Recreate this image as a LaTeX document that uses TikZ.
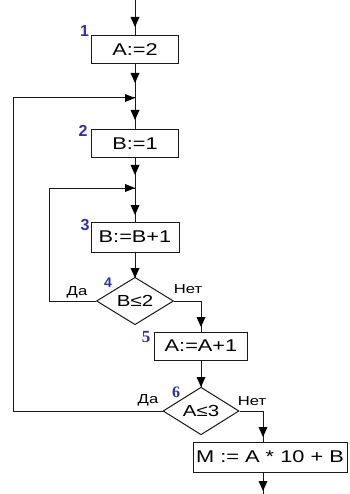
\documentclass[tikz,border=0pt]{standalone}
\usepackage{fontspec}
\setmainfont{Liberation Sans}
\newfontfamily\boxfont{Liberation Sans}[FakeStretch=1.28]
\newfontfamily\numsans{Liberation Sans}
\newfontfamily\numserif{Liberation Serif}
\usetikzlibrary{shapes.geometric,calc}
\definecolor{numblue}{RGB}{40,50,170}
\definecolor{linecol}{RGB}{25,25,25}
\begin{document}
\begin{tikzpicture}[x=1pt,y=-1pt,
  conn/.style={draw=linecol, line width=1pt},
  headfill/.style={fill=black},
  box/.style={draw=linecol, line width=1pt, rectangle, minimum height=28pt, inner sep=0pt, font=\boxfont\fontsize{17}{17}\selectfont},
  dia/.style={draw=linecol, line width=1pt, diamond, minimum width=77pt, minimum height=38pt, inner sep=0pt, font=\boxfont\fontsize{16}{16}\selectfont},
  numA/.style={text=numblue, inner sep=0pt, font=\numsans\bfseries\fontsize{16}{16}\selectfont},
  numB/.style={text=numblue, inner sep=0pt, font=\numserif\bfseries\fontsize{16}{16}\selectfont},
  yn/.style={inner sep=0pt, font=\boxfont\fontsize{13}{13}\selectfont}]
\useasboundingbox (0,0) rectangle (349,494);
% nodes
\node[box, minimum width=87pt] (b1) at (135,49.5) {A:=2};
\node[box, minimum width=87pt] (b2) at (135,144) {B:=1};
\node[box, minimum width=88pt, minimum height=30pt] (b3) at (135,237) {B:=B+1};
\node[dia] (d4) at (135,301) {B≤2};
\node[box, minimum width=93pt] (b5) at (201,346) {A:=A+1};
\node[dia, minimum width=76pt] (d6) at (201,411) {A≤3};
\node[box, minimum width=154pt, minimum height=30pt] (bM) at (270,457) {M := A * 10 + B};
% number labels
\node[numA] (n1) at (84.5,31) {1};
\node[numA] (n2) at (83,131) {2};
\node[numA] (n3) at (85,225) {3};
\node[numA, font=\numsans\bfseries\fontsize{14}{14}\selectfont] (n4) at (108,283) {4};
\node[numB, font=\numserif\bfseries\fontsize{17}{17}\selectfont] (n5) at (146,337) {5};
\node[numB] (n6) at (176,392) {6};
% yes/no labels
\node[yn] (y4) at (77,292) {Да};
\node[yn] (no4) at (188,289) {Нет};
\node[yn] (y6) at (148,400) {Да};
\node[yn] (no6) at (252,401) {Нет};
% coordinates
\coordinate (start) at (135,0);
\coordinate (j1) at (135,98);
\coordinate (j2) at (135,188);
\coordinate (L1) at (13,411);
\coordinate (L2) at (49,301);
\coordinate (mtop) at (263,442);
\coordinate (mbot) at (263,472);
\coordinate (finish) at (263,494);
% arrowhead tip positions
\coordinate (t1) at (135,27);
\coordinate (t2) at (135,83);
\coordinate (t3) at (135,120);
\coordinate (t4) at (135,175);
\coordinate (t5) at (135,215);
\coordinate (t6) at (135,278);
\coordinate (t7) at (201,327);
\coordinate (t8) at (201,387);
\coordinate (t9) at (263,437);
\coordinate (t10) at (263,491);
% connectors
\draw[conn] (start) -- (b1.north);
\draw[conn] (b1.south) -- (j1);
\draw[conn] (j1) -- (b2.north);
\draw[conn] (b2.south) -- (j2);
\draw[conn] (j2) -- (b3.north);
\draw[conn] (b3.south) -- (d4.north);
\draw[conn] (d4.east) -| (b5.north);
\draw[conn] (b5.south) -- (d6.north);
\draw[conn] (d6.east) -| (mtop);
\draw[conn] (mbot) -- (finish);
\draw[conn] (d4.west) -- (L2) |- (j2);
\draw[conn] (d6.west) -- (L1) |- (j1);
% arrowheads (tip down)
\foreach \t in {t1,t2,t3,t4,t5,t6,t7,t8,t9,t10}
  \fill[headfill] (\t) -- ++(-4.5,-10) -- ++(9,0) -- cycle;
% arrowheads of the loops (tip right, at the joins)
\fill[headfill] (j1) -- ++(-10,-4) -- ++(0,8) -- cycle;
\fill[headfill] (j2) -- ++(-10,-4) -- ++(0,8) -- cycle;
\end{tikzpicture}
\end{document}
